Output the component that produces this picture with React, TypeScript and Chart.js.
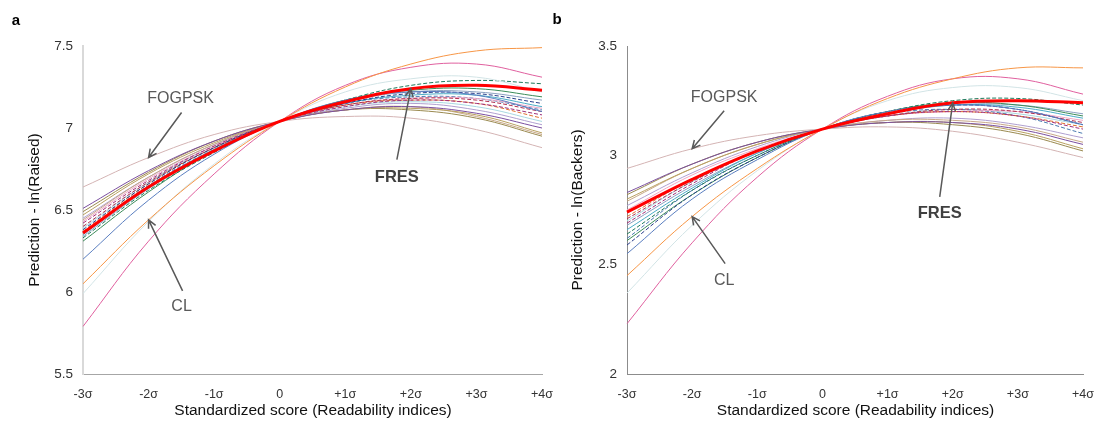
import { useEffect, useRef } from "react";
import { Chart, registerables } from "chart.js";

Chart.register(...registerables);

const FONT = '"Liberation Sans", Arial, sans-serif';

// x categories (standardized readability score)
const X_LABELS = ["-3σ", "-2σ", "-1σ", "0", "+1σ", "+2σ", "+3σ", "+4σ"];

const SERIES_NAMES = [
  "FRES", "FOGPSK", "CL", "Index 4", "Index 5", "Index 6", "Index 7", "Index 8",
  "Index 9", "Index 10", "Index 11", "Index 12", "Index 13", "Index 14", "Index 15",
  "Index 16", "Index 17", "Index 18", "Index 19", "Index 20", "Index 21", "Index 22",
];

// ---- Panel a: Prediction - ln(Raised) ----
const raisedFRES = [6.36, 6.64, 6.86, 7.04, 7.16, 7.24, 7.26, 7.23];
const raisedFOGPSK = [6.64, 6.82, 6.96, 7.04, 7.07, 7.06, 6.99, 6.88];
const raisedCL = [6.05, 6.44, 6.77, 7.04, 7.25, 7.39, 7.47, 7.49];
const raised04 = [5.79, 6.31, 6.72, 7.04, 7.26, 7.37, 7.39, 7.31];
const raised05 = [5.99, 6.43, 6.78, 7.04, 7.22, 7.3, 7.31, 7.22];
const raised06 = [6.2, 6.56, 6.84, 7.04, 7.17, 7.22, 7.2, 7.1];
const raised07 = [6.51, 6.74, 6.92, 7.04, 7.11, 7.13, 7.09, 7.0];
const raised08 = [6.47, 6.72, 6.91, 7.04, 7.11, 7.12, 7.08, 6.97];
const raised09 = [6.44, 6.7, 6.9, 7.04, 7.11, 7.13, 7.07, 6.96];
const raised10 = [6.33, 6.62, 6.85, 7.04, 7.17, 7.26, 7.29, 7.27];
const raised11 = [6.38, 6.66, 6.88, 7.04, 7.15, 7.21, 7.21, 7.15];
const raised12 = [6.4, 6.67, 6.88, 7.04, 7.14, 7.18, 7.17, 7.1];
const raised13 = [6.35, 6.64, 6.87, 7.04, 7.15, 7.2, 7.2, 7.13];
const raised14 = [6.42, 6.68, 6.89, 7.04, 7.13, 7.17, 7.15, 7.08];
const raised15 = [6.31, 6.61, 6.86, 7.04, 7.17, 7.23, 7.24, 7.19];
const raised16 = [6.45, 6.7, 6.9, 7.04, 7.12, 7.15, 7.11, 7.02];
const raised17 = [6.37, 6.66, 6.88, 7.04, 7.14, 7.17, 7.15, 7.06];
const raised18 = [6.34, 6.63, 6.86, 7.04, 7.16, 7.22, 7.22, 7.17];
const raised19 = [6.43, 6.69, 6.89, 7.04, 7.14, 7.18, 7.18, 7.12];
const raised20 = [6.49, 6.73, 6.92, 7.04, 7.11, 7.11, 7.06, 6.95];
const raised21 = [6.36, 6.65, 6.87, 7.04, 7.15, 7.19, 7.18, 7.11];
const raised22 = [6.39, 6.67, 6.89, 7.04, 7.13, 7.16, 7.13, 7.04];

// ---- Panel b: Prediction - ln(Backers) ----
const backersFRES = [2.74, 2.89, 3.02, 3.12, 3.19, 3.24, 3.25, 3.24];
const backersFOGPSK = [2.94, 3.03, 3.09, 3.12, 3.13, 3.11, 3.06, 2.99];
const backersCL = [2.45, 2.72, 2.94, 3.12, 3.26, 3.35, 3.4, 3.4];
const backers04 = [2.23, 2.6, 2.9, 3.12, 3.27, 3.35, 3.35, 3.28];
const backers05 = [2.37, 2.68, 2.93, 3.12, 3.25, 3.31, 3.31, 3.25];
const backers06 = [2.55, 2.8, 2.98, 3.12, 3.2, 3.23, 3.21, 3.14];
const backers07 = [2.83, 2.96, 3.06, 3.12, 3.15, 3.15, 3.12, 3.05];
const backers08 = [2.8, 2.94, 3.05, 3.12, 3.15, 3.15, 3.11, 3.03];
const backers09 = [2.79, 2.94, 3.05, 3.12, 3.16, 3.16, 3.13, 3.06];
const backers10 = [2.64, 2.84, 3.0, 3.12, 3.2, 3.25, 3.26, 3.23];
const backers11 = [2.59, 2.82, 2.99, 3.12, 3.2, 3.23, 3.21, 3.14];
const backers12 = [2.71, 2.88, 3.02, 3.12, 3.18, 3.21, 3.2, 3.15];
const backers13 = [2.66, 2.85, 3.01, 3.12, 3.19, 3.23, 3.22, 3.17];
const backers14 = [2.69, 2.87, 3.02, 3.12, 3.18, 3.2, 3.18, 3.12];
const backers15 = [2.61, 2.82, 2.99, 3.12, 3.2, 3.24, 3.23, 3.18];
const backers16 = [2.77, 2.92, 3.04, 3.12, 3.16, 3.17, 3.14, 3.08];
const backers17 = [2.72, 2.89, 3.02, 3.12, 3.18, 3.2, 3.18, 3.13];
const backers18 = [2.68, 2.86, 3.01, 3.12, 3.19, 3.23, 3.23, 3.19];
const backers19 = [2.75, 2.91, 3.03, 3.12, 3.18, 3.2, 3.2, 3.16];
const backers20 = [2.82, 2.96, 3.06, 3.12, 3.15, 3.14, 3.1, 3.02];
const backers21 = [2.62, 2.84, 3.0, 3.12, 3.19, 3.21, 3.18, 3.1];
const backers22 = [2.7, 2.88, 3.02, 3.12, 3.18, 3.21, 3.19, 3.14];

const RAISED_SERIES = [
  raisedFRES, raisedFOGPSK, raisedCL, raised04, raised05, raised06, raised07, raised08,
  raised09, raised10, raised11, raised12, raised13, raised14, raised15, raised16,
  raised17, raised18, raised19, raised20, raised21, raised22,
];
const BACKERS_SERIES = [
  backersFRES, backersFOGPSK, backersCL, backers04, backers05, backers06, backers07, backers08,
  backers09, backers10, backers11, backers12, backers13, backers14, backers15, backers16,
  backers17, backers18, backers19, backers20, backers21, backers22,
];

// y-axis ticks
const RAISED_Y = { min: 5.5, max: 7.5, step: 0.5 };
const BACKERS_Y = { min: 2, max: 3.5, step: 0.5 };

// styles
const SERIES_COLORS = [
  "#ff0000", "#d4b4b4", "#f79646", "#e0609f", "#d2e4e6", "#5b7fc0", "#7b4fa0", "#b8a060",
  "#c8a888", "#1f7a5c", "#2b3f8c", "#b03050", "#4bacc6", "#a0307a", "#3c8c5a", "#b0a0d0",
  "#e07030", "#8aa0c0", "#f0a8c8", "#9a8a50", "#4a7ab0", "#a8d8e0",
];
const SERIES_DASHED = [
  false, false, false, false, false, false, false, false,
  false, true, true, true, false, true, false, false,
  true, false, false, false, true, false,
];

type Annot = {
  text: string;
  ds: number;
  pt: number;
  tail: [number, number];
  label: [number, number];
  bold: boolean;
};

const LEFT_ANNOTS: Annot[] = [
  { text: "FOGPSK", ds: 1, pt: 1, tail: [33, -45], label: [32, -59], bold: false },
  { text: "CL", ds: 2, pt: 1, tail: [34, 71], label: [33, 87], bold: false },
  { text: "FRES", ds: 0, pt: 5, tail: [-14, 71], label: [-14, 89], bold: true },
];
const RIGHT_ANNOTS: Annot[] = [
  { text: "FOGPSK", ds: 1, pt: 1, tail: [32, -38], label: [32, -51], bold: false },
  { text: "CL", ds: 2, pt: 1, tail: [33, 47], label: [32, 64], bold: false },
  { text: "FRES", ds: 0, pt: 5, tail: [-13, 94], label: [-13, 111], bold: true },
];

type PanelProps = {
  left: number;
  width: number;
  series: number[][];
  yRange: { min: number; max: number; step: number };
  yTitle: string;
  letter: string;
  letterPos: [number, number];
  yAxisWidth: number;
  rightPad: number;
  yAxisColor: string;
  yAxisWidthPx: number;
  xAxisColor: string;
  yTitleX: number;
  annots: Annot[];
};

function Panel(p: PanelProps) {
  const ref = useRef<HTMLCanvasElement | null>(null);
  useEffect(() => {
    const canvas = ref.current;
    if (!canvas) return;
    const annotPlugin = {
      id: "annot",
      afterDraw(chart: any) {
        const ctx = chart.ctx as CanvasRenderingContext2D;
        const area = chart.chartArea;
        ctx.save();
        // arrows + labels
        for (const a of p.annots) {
          const el = chart.getDatasetMeta(a.ds).data[a.pt];
          const tx = el.x;
          const ty = el.y;
          const sx = tx + a.tail[0];
          const sy = ty + a.tail[1];
          ctx.strokeStyle = "#595959";
          ctx.lineWidth = 1.5;
          ctx.setLineDash([]);
          ctx.beginPath();
          ctx.moveTo(sx, sy);
          ctx.lineTo(tx, ty);
          const ang = Math.atan2(ty - sy, tx - sx);
          const hl = 9;
          const spread = 0.45;
          ctx.moveTo(tx - hl * Math.cos(ang - spread), ty - hl * Math.sin(ang - spread));
          ctx.lineTo(tx, ty);
          ctx.lineTo(tx - hl * Math.cos(ang + spread), ty - hl * Math.sin(ang + spread));
          ctx.stroke();
          ctx.fillStyle = a.bold ? "#404040" : "#595959";
          ctx.font = (a.bold ? "bold 16.5px " : "16px ") + FONT;
          ctx.textAlign = "center";
          ctx.textBaseline = "middle";
          ctx.fillText(a.text, tx + a.label[0], ty + a.label[1]);
        }
        // axis titles
        ctx.fillStyle = "#111111";
        ctx.font = "15.5px " + FONT;
        ctx.textAlign = "center";
        ctx.textBaseline = "middle";
        ctx.fillText("Standardized score (Readability indices)", (area.left + area.right) / 2 + 0.5, 411);
        ctx.save();
        ctx.translate(p.yTitleX, (area.top + area.bottom) / 2);
        ctx.rotate(-Math.PI / 2);
        ctx.fillText(p.yTitle, 0, 0);
        ctx.restore();
        // panel letter
        ctx.fillStyle = "#000000";
        ctx.font = "bold 15px " + FONT;
        ctx.fillText(p.letter, p.letterPos[0], p.letterPos[1]);
        ctx.restore();
      },
    };
    const chart = new Chart(canvas, {
      type: "line",
      data: {
        labels: X_LABELS,
        datasets: p.series.map((vals, i) => ({
          label: SERIES_NAMES[i],
          data: vals,
          borderColor: SERIES_COLORS[i],
          backgroundColor: SERIES_COLORS[i],
          borderWidth: i === 0 ? 3 : 1,
          borderDash: SERIES_DASHED[i] ? [4, 2] : [],
          pointRadius: 0,
          tension: 0.4,
          fill: false,
        })),
      },
      options: {
        animation: false,
        responsive: false,
        maintainAspectRatio: false,
        layout: { padding: { top: 46, right: p.rightPad, left: 0, bottom: 0 } },
        plugins: { legend: { display: false }, tooltip: { enabled: false } },
        scales: {
          x: {
            type: "category",
            offset: false,
            grid: { display: false, drawTicks: false },
            border: { display: true, color: p.xAxisColor, width: 1 },
            ticks: {
              padding: 13,
              autoSkip: false,
              maxRotation: 0,
              color: "#333333",
              font: { family: FONT, size: 12.5 },
            },
            afterFit: (s: any) => {
              s.height = 47;
              s.paddingLeft = 0;
              s.paddingRight = 0;
            },
          },
          y: {
            type: "linear",
            min: p.yRange.min,
            max: p.yRange.max,
            grid: { display: false, drawTicks: false },
            border: { display: true, color: p.yAxisColor, width: p.yAxisWidthPx },
            ticks: {
              stepSize: p.yRange.step,
              padding: 10,
              color: "#333333",
              font: { family: FONT, size: 13.5 },
              callback: (v: any) => String(Math.round(Number(v) * 10) / 10),
            },
            afterFit: (s: any) => {
              s.width = p.yAxisWidth;
              s.paddingTop = 0;
              s.paddingBottom = 0;
            },
          },
        },
      } as any,
      plugins: [annotPlugin],
    });
    return () => chart.destroy();
  }, []);
  return (
    <canvas
      ref={ref}
      width={p.width}
      height={421}
      style={{ position: "absolute", left: p.left, top: 0, width: p.width, height: 421 }}
    />
  );
}

export default function App() {
  return (
    <div style={{ position: "absolute", left: 0, top: 0, width: 1097, height: 421, background: "#ffffff" }}>
      <Panel
        left={0}
        width={555}
        series={RAISED_SERIES}
        yRange={RAISED_Y}
        yTitle="Prediction - ln(Raised)"
        letter="a"
        letterPos={[16, 21]}
        yAxisWidth={83}
        rightPad={13}
        yAxisColor="#d9d9d9"
        yAxisWidthPx={2}
        xAxisColor="#a6a6a6"
        yTitleX={35}
        annots={LEFT_ANNOTS}
      />
      <Panel
        left={545}
        width={552}
        series={BACKERS_SERIES}
        yRange={BACKERS_Y}
        yTitle="Prediction - ln(Backers)"
        letter="b"
        letterPos={[12, 20]}
        yAxisWidth={82}
        rightPad={14}
        yAxisColor="#8c8c8c"
        yAxisWidthPx={1}
        xAxisColor="#8c8c8c"
        yTitleX={33}
        annots={RIGHT_ANNOTS}
      />
    </div>
  );
}
